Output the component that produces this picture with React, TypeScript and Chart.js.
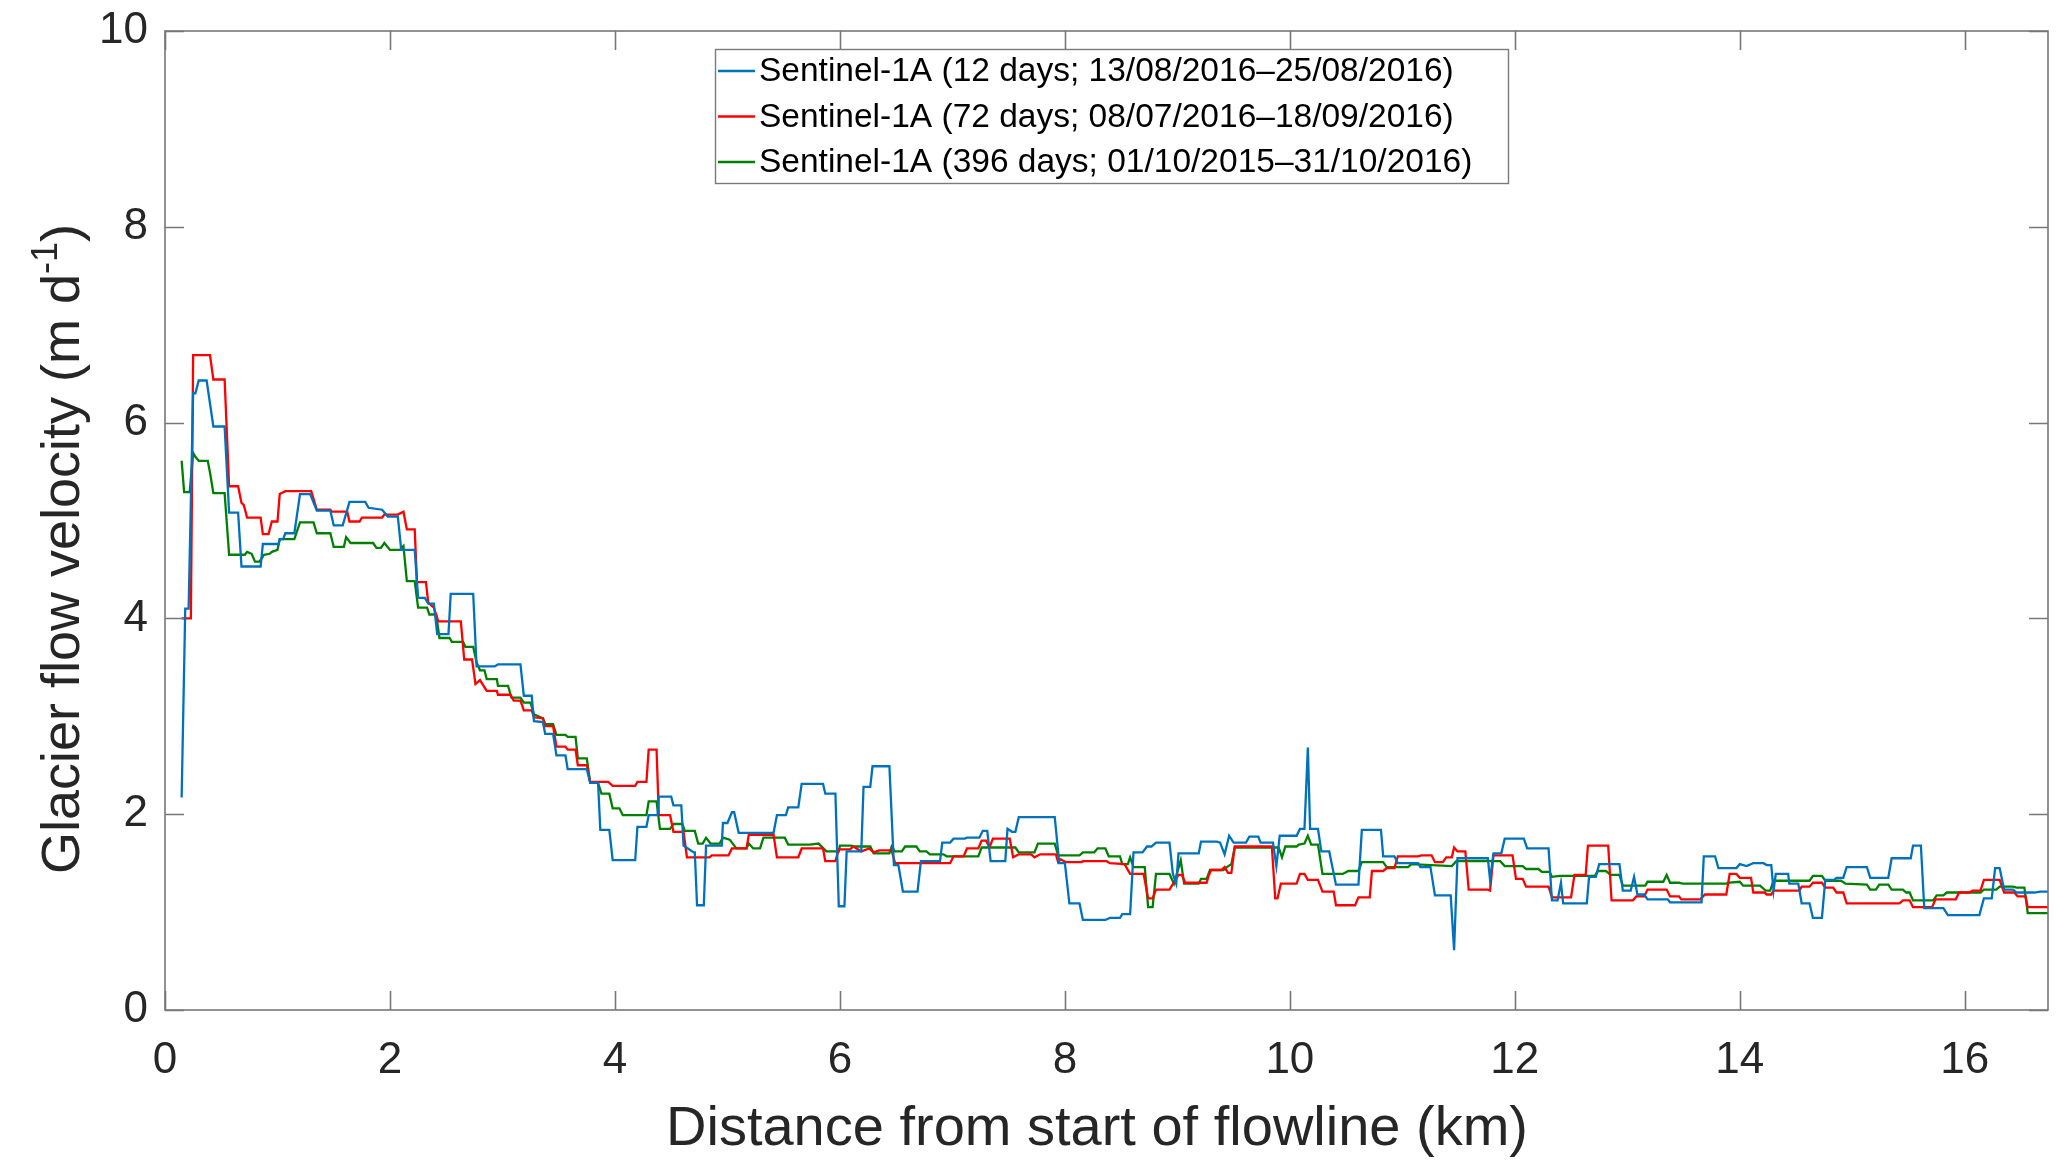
import React, { useEffect, useRef } from "react";
import { Chart, registerables } from "chart.js";

Chart.register(...registerables);

const W = 2067;
const H = 1175;

const xTicks = [0, 2, 4, 6, 8, 10, 12, 14, 16];
const yTicks = [0, 2, 4, 6, 8, 10];
const xMax = 16.74;
const yMax = 10;

const seriesLabels = [
  "Sentinel-1A (12 days; 13/08/2016\u201325/08/2016)",
  "Sentinel-1A (72 days; 08/07/2016\u201318/09/2016)",
  "Sentinel-1A (396 days; 01/10/2015\u201331/10/2016)",
];
const seriesColors = ["#0072BD", "#FF0000", "#008000"];

const xTitle = "Distance from start of flowline (km)";
const yTitleMain = "Glacier flow velocity (m d";
const yTitleSup = "-1";
const yTitleEnd = ")";

// [distance km, velocity m/d]
const s12days: [number, number][] = [
  [0.148, 2.17], [0.18, 4.1], [0.21, 4.1], [0.25, 6.3], [0.27, 6.3], [0.3, 6.43], [0.37, 6.43], [0.43, 5.96], [0.53, 5.96],
  [0.57, 5.08], [0.65, 5.08], [0.68, 4.53], [0.85, 4.53], [0.87, 4.76], [1.01, 4.76], [1.02, 4.81], [1.05, 4.81], [1.07, 4.87],
  [1.15, 4.87], [1.2, 5.27], [1.29, 5.27], [1.35, 5.1], [1.47, 5.1], [1.5, 4.95], [1.58, 4.95], [1.64, 5.19], [1.78, 5.19],
  [1.81, 5.13], [1.93, 5.11], [1.98, 5.04], [2.07, 5.04], [2.1, 4.7], [2.22, 4.7], [2.25, 4.21], [2.31, 4.21], [2.34, 4.15],
  [2.39, 4.15], [2.42, 3.84], [2.52, 3.84], [2.54, 4.25], [2.74, 4.25], [2.77, 3.51], [2.93, 3.51], [2.96, 3.53], [3.16, 3.53],
  [3.19, 3.21], [3.26, 3.21], [3.28, 2.95], [3.36, 2.94], [3.38, 2.82], [3.45, 2.82], [3.48, 2.6], [3.56, 2.6], [3.58, 2.46],
  [3.75, 2.46], [3.78, 2.32], [3.85, 2.32], [3.87, 1.84], [3.95, 1.84], [3.98, 1.53], [4.18, 1.53], [4.2, 1.87], [4.28, 1.87],
  [4.3, 1.99], [4.38, 1.99], [4.39, 2.18], [4.5, 2.18], [4.52, 2.09], [4.59, 2.09], [4.61, 1.68], [4.7, 1.61], [4.71, 1.61],
  [4.73, 1.07], [4.79, 1.07], [4.81, 1.68], [4.95, 1.68], [4.96, 1.91], [5.0, 1.91], [5.04, 2.02], [5.06, 2.02], [5.1, 1.81],
  [5.41, 1.81], [5.44, 1.99], [5.52, 1.99], [5.54, 2.07], [5.63, 2.07], [5.66, 2.31], [5.85, 2.31], [5.87, 2.21], [5.96, 2.21],
  [5.99, 1.06], [6.04, 1.06], [6.06, 1.62], [6.19, 1.62], [6.21, 2.28], [6.27, 2.28], [6.29, 2.49], [6.44, 2.49], [6.48, 1.48],
  [6.52, 1.48], [6.56, 1.21], [6.69, 1.21], [6.72, 1.52], [6.89, 1.52], [6.91, 1.71], [6.98, 1.71], [7.01, 1.75], [7.11, 1.75],
  [7.13, 1.76], [7.24, 1.76], [7.27, 1.83], [7.31, 1.83], [7.34, 1.52], [7.47, 1.52], [7.49, 1.85], [7.53, 1.82], [7.56, 1.82],
  [7.59, 1.97], [7.91, 1.97], [7.95, 1.5], [8.0, 1.5], [8.04, 1.09], [8.13, 1.09], [8.16, 0.92], [8.36, 0.92], [8.4, 0.94],
  [8.49, 0.94], [8.51, 0.98], [8.58, 0.98], [8.61, 1.61], [8.69, 1.61], [8.73, 1.67], [8.77, 1.67], [8.81, 1.71], [8.93, 1.71],
  [8.96, 1.39], [8.99, 1.29], [9.01, 1.6], [9.19, 1.6], [9.21, 1.72], [9.35, 1.72], [9.38, 1.71], [9.42, 1.59], [9.46, 1.78],
  [9.5, 1.71], [9.61, 1.71], [9.64, 1.77], [9.72, 1.77], [9.74, 1.71], [9.85, 1.71], [9.88, 1.47], [9.91, 1.78], [10.06, 1.78],
  [10.09, 1.85], [10.13, 1.85], [10.16, 2.68], [10.18, 1.85], [10.25, 1.85], [10.28, 1.62], [10.35, 1.62], [10.41, 1.28],
  [10.61, 1.28], [10.64, 1.84], [10.81, 1.84], [10.83, 1.57], [10.93, 1.57], [10.96, 1.5], [11.14, 1.5], [11.16, 1.46],
  [11.25, 1.46], [11.29, 1.17], [11.43, 1.17], [11.46, 0.61], [11.49, 1.55], [11.76, 1.55], [11.78, 1.33], [11.81, 1.6],
  [11.88, 1.6], [11.91, 1.75], [12.08, 1.75], [12.11, 1.65], [12.3, 1.65], [12.33, 1.12], [12.38, 1.12], [12.41, 1.3],
  [12.43, 1.09], [12.64, 1.09], [12.66, 1.36], [12.72, 1.36], [12.75, 1.49], [12.93, 1.49], [12.96, 1.22], [13.03, 1.22],
  [13.06, 1.36], [13.09, 1.18], [13.15, 1.18], [13.18, 1.13], [13.36, 1.13], [13.38, 1.1], [13.66, 1.1], [13.68, 1.57],
  [13.78, 1.57], [13.81, 1.45], [13.97, 1.45], [14.0, 1.49], [14.06, 1.47], [14.12, 1.5], [14.21, 1.5], [14.24, 1.48],
  [14.28, 1.48], [14.3, 1.22], [14.32, 1.39], [14.43, 1.39], [14.44, 1.29], [14.52, 1.29], [14.55, 1.09], [14.62, 1.09],
  [14.65, 0.94], [14.73, 0.94], [14.76, 1.33], [14.84, 1.33], [14.86, 1.35], [14.92, 1.35], [14.95, 1.46], [15.13, 1.46],
  [15.16, 1.35], [15.32, 1.35], [15.35, 1.55], [15.52, 1.55], [15.54, 1.68], [15.61, 1.68], [15.64, 1.04], [15.81, 1.04],
  [15.85, 0.97], [16.13, 0.97], [16.17, 1.14], [16.24, 1.14], [16.27, 1.45], [16.31, 1.45], [16.35, 1.23], [16.43, 1.23],
  [16.46, 1.2], [16.62, 1.2], [16.67, 1.21], [16.74, 1.21],
];

const s72days: [number, number][] = [
  [0.148, 4.0], [0.23, 4.0], [0.25, 6.69], [0.4, 6.69], [0.43, 6.44], [0.53, 6.44], [0.57, 5.35], [0.65, 5.35], [0.68, 5.18],
  [0.7, 5.16], [0.73, 5.03], [0.85, 5.03], [0.87, 4.86], [0.92, 4.86], [0.95, 4.99], [1.0, 4.99], [1.02, 5.27], [1.07, 5.3],
  [1.3, 5.3], [1.35, 5.11], [1.47, 5.11], [1.48, 5.09], [1.62, 5.09], [1.64, 4.99], [1.73, 4.99], [1.75, 5.03], [1.93, 5.03],
  [1.95, 5.06], [2.07, 5.06], [2.12, 5.09], [2.15, 4.91], [2.22, 4.91], [2.24, 4.37], [2.32, 4.37], [2.34, 4.16], [2.39, 4.11],
  [2.43, 3.97], [2.63, 3.97], [2.66, 3.58], [2.73, 3.58], [2.76, 3.33], [2.8, 3.37], [2.86, 3.26], [2.95, 3.26], [2.96, 3.22],
  [3.07, 3.22], [3.1, 3.16], [3.16, 3.16], [3.19, 3.06], [3.26, 3.06], [3.28, 2.99], [3.36, 2.98], [3.38, 2.9], [3.45, 2.9],
  [3.48, 2.69], [3.56, 2.69], [3.58, 2.66], [3.65, 2.66], [3.67, 2.5], [3.75, 2.5], [3.78, 2.33], [3.94, 2.33], [3.98, 2.29],
  [4.18, 2.29], [4.2, 2.33], [4.28, 2.33], [4.3, 2.66], [4.37, 2.66], [4.39, 1.99], [4.49, 1.99], [4.52, 1.82], [4.61, 1.82],
  [4.64, 1.56], [4.84, 1.56], [4.86, 1.58], [5.01, 1.58], [5.04, 1.65], [5.17, 1.65], [5.19, 1.79], [5.41, 1.79], [5.44, 1.56],
  [5.63, 1.56], [5.66, 1.65], [5.85, 1.65], [5.87, 1.52], [5.96, 1.52], [5.99, 1.64], [6.09, 1.64], [6.12, 1.67], [6.19, 1.62],
  [6.26, 1.65], [6.3, 1.61], [6.35, 1.63], [6.46, 1.63], [6.49, 1.5], [6.98, 1.5], [7.01, 1.57], [7.1, 1.57], [7.13, 1.65],
  [7.23, 1.65], [7.26, 1.73], [7.3, 1.73], [7.33, 1.66], [7.36, 1.75], [7.51, 1.75], [7.54, 1.56], [7.59, 1.59], [7.7, 1.59],
  [7.73, 1.56], [7.78, 1.59], [7.92, 1.59], [7.94, 1.51], [7.96, 1.54], [8.01, 1.51], [8.15, 1.51], [8.16, 1.52], [8.37, 1.52],
  [8.4, 1.5], [8.53, 1.49], [8.58, 1.39], [8.7, 1.39], [8.74, 1.14], [8.78, 1.14], [8.81, 1.23], [8.93, 1.23], [9.01, 1.38],
  [9.04, 1.38], [9.07, 1.3], [9.26, 1.3], [9.28, 1.38], [9.3, 1.43], [9.39, 1.43], [9.42, 1.46], [9.45, 1.4], [9.48, 1.4],
  [9.51, 1.67], [9.84, 1.67], [9.87, 1.14], [9.89, 1.14], [9.92, 1.29], [10.06, 1.29], [10.09, 1.39], [10.13, 1.39],
  [10.16, 1.33], [10.25, 1.33], [10.29, 1.21], [10.39, 1.21], [10.41, 1.07], [10.58, 1.07], [10.61, 1.15], [10.71, 1.15],
  [10.73, 1.42], [10.83, 1.42], [10.86, 1.45], [10.93, 1.45], [10.96, 1.57], [11.14, 1.57], [11.17, 1.58], [11.26, 1.58],
  [11.29, 1.51], [11.36, 1.51], [11.39, 1.56], [11.44, 1.56], [11.46, 1.66], [11.49, 1.62], [11.56, 1.62], [11.59, 1.23],
  [11.76, 1.23], [11.78, 1.22], [11.81, 1.58], [11.98, 1.58], [12.01, 1.34], [12.07, 1.34], [12.1, 1.26], [12.3, 1.26],
  [12.33, 1.15], [12.5, 1.15], [12.53, 1.38], [12.63, 1.38], [12.65, 1.68], [12.83, 1.68], [12.86, 1.12], [13.05, 1.12],
  [13.08, 1.16], [13.15, 1.16], [13.18, 1.23], [13.35, 1.23], [13.38, 1.16], [13.46, 1.16], [13.48, 1.13], [13.65, 1.13],
  [13.69, 1.18], [13.88, 1.18], [13.91, 1.39], [13.97, 1.39], [14.0, 1.35], [14.1, 1.35], [14.12, 1.2], [14.22, 1.2],
  [14.24, 1.18], [14.28, 1.18], [14.3, 1.22], [14.53, 1.22], [14.55, 1.26], [14.62, 1.26], [14.65, 1.3], [14.73, 1.3],
  [14.76, 1.25], [14.83, 1.25], [14.86, 1.2], [14.92, 1.2], [14.95, 1.09], [15.42, 1.09], [15.45, 1.12], [15.51, 1.12],
  [15.54, 1.05], [15.71, 1.05], [15.74, 1.13], [15.92, 1.13], [15.95, 1.2], [16.04, 1.2], [16.07, 1.22], [16.14, 1.22],
  [16.17, 1.33], [16.31, 1.33], [16.35, 1.2], [16.44, 1.2], [16.47, 1.16], [16.54, 1.16], [16.56, 1.05], [16.74, 1.05],
];

const s396days: [number, number][] = [
  [0.148, 5.61], [0.17, 5.29], [0.22, 5.29], [0.25, 5.69], [0.27, 5.65], [0.3, 5.61], [0.38, 5.61], [0.4, 5.49], [0.43, 5.28],
  [0.53, 5.28], [0.57, 4.65], [0.71, 4.65], [0.73, 4.68], [0.77, 4.66], [0.8, 4.58], [0.84, 4.58], [0.88, 4.65], [0.93, 4.66],
  [0.95, 4.68], [1.0, 4.7], [1.02, 4.81], [1.15, 4.81], [1.2, 4.98], [1.32, 4.98], [1.35, 4.87], [1.47, 4.87], [1.5, 4.73],
  [1.59, 4.73], [1.61, 4.83], [1.65, 4.77], [1.85, 4.77], [1.88, 4.72], [1.92, 4.72], [1.95, 4.77], [2.0, 4.7], [2.09, 4.7],
  [2.12, 4.74], [2.15, 4.38], [2.22, 4.38], [2.25, 4.11], [2.33, 4.11], [2.35, 4.04], [2.41, 4.04], [2.44, 3.8], [2.53, 3.8],
  [2.55, 3.76], [2.65, 3.76], [2.67, 3.71], [2.74, 3.71], [2.77, 3.55], [2.8, 3.47], [2.84, 3.47], [2.86, 3.38], [2.95, 3.38],
  [2.96, 3.31], [3.05, 3.31], [3.08, 3.19], [3.16, 3.19], [3.19, 3.14], [3.25, 3.14], [3.28, 3.02], [3.36, 2.98], [3.38, 2.92],
  [3.45, 2.92], [3.48, 2.81], [3.56, 2.81], [3.58, 2.79], [3.65, 2.79], [3.67, 2.57], [3.75, 2.57], [3.78, 2.32], [3.85, 2.32],
  [3.88, 2.21], [3.95, 2.21], [3.98, 2.06], [4.04, 2.06], [4.07, 1.99], [4.28, 1.99], [4.3, 2.13], [4.37, 2.13], [4.4, 1.85],
  [4.49, 1.85], [4.52, 1.9], [4.6, 1.9], [4.62, 1.83], [4.71, 1.83], [4.74, 1.7], [4.78, 1.7], [4.81, 1.76], [4.85, 1.7],
  [4.93, 1.7], [4.96, 1.76], [5.02, 1.74], [5.08, 1.65], [5.17, 1.65], [5.19, 1.7], [5.23, 1.65], [5.29, 1.65], [5.32, 1.76],
  [5.51, 1.76], [5.54, 1.69], [5.73, 1.69], [5.81, 1.7], [5.88, 1.62], [5.99, 1.62], [6.0, 1.68], [6.1, 1.68], [6.13, 1.67],
  [6.27, 1.67], [6.3, 1.6], [6.44, 1.6], [6.46, 1.67], [6.49, 1.62], [6.55, 1.62], [6.58, 1.67], [6.68, 1.67], [6.71, 1.62],
  [6.77, 1.62], [6.8, 1.59], [6.92, 1.59], [6.95, 1.57], [7.23, 1.57], [7.26, 1.66], [7.56, 1.66], [7.59, 1.61], [7.73, 1.61],
  [7.76, 1.7], [7.91, 1.7], [7.94, 1.58], [8.13, 1.58], [8.16, 1.61], [8.26, 1.61], [8.29, 1.65], [8.36, 1.65], [8.39, 1.57],
  [8.49, 1.57], [8.51, 1.49], [8.56, 1.49], [8.58, 1.56], [8.61, 1.46], [8.71, 1.46], [8.74, 1.05], [8.78, 1.05], [8.81, 1.39],
  [8.93, 1.39], [8.97, 1.29], [9.03, 1.53], [9.06, 1.29], [9.19, 1.29], [9.21, 1.34], [9.26, 1.34], [9.29, 1.43], [9.41, 1.43],
  [9.44, 1.46], [9.48, 1.49], [9.51, 1.66], [9.9, 1.66], [9.93, 1.56], [9.96, 1.67], [10.06, 1.67], [10.08, 1.69], [10.13, 1.7],
  [10.16, 1.78], [10.19, 1.69], [10.25, 1.69], [10.29, 1.39], [10.47, 1.39], [10.52, 1.42], [10.61, 1.42], [10.64, 1.51],
  [10.83, 1.51], [10.86, 1.46], [11.05, 1.46], [11.08, 1.49], [11.44, 1.47], [11.48, 1.52], [11.87, 1.52], [11.91, 1.47],
  [12.07, 1.47], [12.1, 1.44], [12.21, 1.44], [12.24, 1.41], [12.31, 1.41], [12.33, 1.36], [12.4, 1.37], [12.71, 1.37],
  [12.74, 1.42], [12.81, 1.42], [12.85, 1.38], [12.93, 1.38], [12.96, 1.27], [13.16, 1.27], [13.18, 1.31], [13.32, 1.31],
  [13.35, 1.38], [13.38, 1.3], [13.46, 1.3], [13.49, 1.29], [13.88, 1.29], [13.91, 1.3], [14.0, 1.31], [14.03, 1.27],
  [14.18, 1.27], [14.23, 1.22], [14.27, 1.22], [14.3, 1.32], [14.62, 1.32], [14.65, 1.37], [14.73, 1.37], [14.76, 1.32],
  [14.9, 1.32], [14.94, 1.29], [15.13, 1.28], [15.16, 1.23], [15.21, 1.23], [15.24, 1.28], [15.32, 1.28], [15.35, 1.23],
  [15.45, 1.23], [15.48, 1.2], [15.51, 1.2], [15.54, 1.12], [15.72, 1.12], [15.75, 1.17], [15.81, 1.17], [15.84, 1.2],
  [16.14, 1.2], [16.17, 1.23], [16.28, 1.23], [16.31, 1.26], [16.43, 1.26], [16.46, 1.25], [16.53, 1.25], [16.56, 0.99],
  [16.74, 0.99],
];

const seriesData = [s12days, s72days, s396days];

const FONT = "'Liberation Sans', Arial, Helvetica, sans-serif";
const TEXT = "#262626";

const decorPlugin = {
  id: "decor",
  afterDatasetsDraw(chart: any) {
    const { ctx, chartArea: a, scales } = chart;
    ctx.save();
    // axes box
    ctx.strokeStyle = "#777777";
    ctx.lineWidth = 1.6;
    ctx.strokeRect(a.left, a.top, a.right - a.left, a.bottom - a.top);
    // inward ticks on all four sides
    const tl = 19;
    ctx.beginPath();
    for (const t of scales.x.ticks) {
      const px = Math.round(scales.x.getPixelForValue(t.value)) + 0.5;
      ctx.moveTo(px, a.bottom);
      ctx.lineTo(px, a.bottom - tl);
      ctx.moveTo(px, a.top);
      ctx.lineTo(px, a.top + tl);
    }
    for (const t of scales.y.ticks) {
      const py = Math.round(scales.y.getPixelForValue(t.value)) + 0.5;
      ctx.moveTo(a.left, py);
      ctx.lineTo(a.left + tl, py);
      ctx.moveTo(a.right, py);
      ctx.lineTo(a.right - tl, py);
    }
    ctx.stroke();

    // legend
    const lx = 715, ly = 49, lw = 793, lh = 134;
    ctx.fillStyle = "#ffffff";
    ctx.fillRect(lx, ly, lw, lh);
    ctx.strokeStyle = "#7a7a7a";
    ctx.lineWidth = 1.4;
    ctx.strokeRect(lx + 0.5, ly + 0.5, lw, lh);
    ctx.font = `33.5px ${FONT}`;
    ctx.textBaseline = "middle";
    ctx.textAlign = "left";
    chart.data.datasets.forEach((ds: any, i: number) => {
      const cy = ly + 22 + i * 45.5;
      ctx.strokeStyle = ds.borderColor;
      ctx.lineWidth = 2.3;
      ctx.beginPath();
      ctx.moveTo(lx + 3, cy);
      ctx.lineTo(lx + 40, cy);
      ctx.stroke();
      ctx.fillStyle = "#000000";
      ctx.fillText(ds.label, lx + 44, cy + 1);
    });

    // x-axis title
    ctx.fillStyle = TEXT;
    ctx.font = `56px ${FONT}`;
    ctx.textAlign = "center";
    ctx.textBaseline = "alphabetic";
    ctx.fillText(xTitle, 1097, 1145);

    // y-axis title with superscript
    const mainFont = `54px ${FONT}`;
    const supFont = `36px ${FONT}`;
    ctx.textAlign = "left";
    ctx.font = mainFont;
    const w1 = ctx.measureText(yTitleMain).width;
    const w3 = ctx.measureText(yTitleEnd).width;
    ctx.font = supFont;
    const w2 = ctx.measureText(yTitleSup).width;
    const total = w1 + w2 + w3;
    ctx.translate(60, 549);
    ctx.rotate(-Math.PI / 2);
    const base = 19;
    let x = -total / 2;
    ctx.font = mainFont;
    ctx.fillText(yTitleMain, x, base);
    x += w1;
    ctx.font = supFont;
    ctx.fillText(yTitleSup, x, base - 22);
    x += w2;
    ctx.font = mainFont;
    ctx.fillText(yTitleEnd, x, base);
    ctx.restore();
  },
};

export default function App() {
  const ref = useRef<HTMLCanvasElement | null>(null);
  useEffect(() => {
    if (!ref.current) return;
    const chart = new Chart(ref.current, {
      type: "line",
      data: {
        datasets: seriesData.map((d, i) => ({
          label: seriesLabels[i],
          data: d.map(([x, y]) => ({ x, y })),
          borderColor: seriesColors[i],
          backgroundColor: seriesColors[i],
          borderWidth: 2.3,
          pointRadius: 0,
          tension: 0,
          fill: false,
        })),
      },
      options: {
        animation: false,
        responsive: false,
        devicePixelRatio: 1,
        layout: { padding: { top: 31, right: 19, left: 0, bottom: 0 } },
        plugins: { legend: { display: false }, tooltip: { enabled: false } },
        scales: {
          x: {
            type: "linear",
            position: "bottom",
            min: 0,
            max: xMax,
            grid: { display: false, drawTicks: false },
            border: { display: false },
            afterBuildTicks: (s: any) => {
              s.ticks = xTicks.map((v) => ({ value: v }));
            },
            afterFit: (s: any) => {
              s.height = H - 1010;
              s.paddingLeft = 0;
              s.paddingRight = 0;
            },
            ticks: {
              autoSkip: false,
              maxRotation: 0,
              padding: 24,
              color: TEXT,
              font: { family: FONT, size: 44 },
              callback: (v: any) => String(v),
            },
          },
          y: {
            type: "linear",
            min: 0,
            max: yMax,
            grid: { display: false, drawTicks: false },
            border: { display: false },
            afterBuildTicks: (s: any) => {
              s.ticks = yTicks.map((v) => ({ value: v }));
            },
            afterFit: (s: any) => {
              s.width = 165;
              s.paddingTop = 0;
              s.paddingBottom = 0;
            },
            ticks: {
              autoSkip: false,
              padding: 17,
              color: TEXT,
              font: { family: FONT, size: 44 },
              callback: (v: any) => String(v),
            },
          },
        },
      },
      plugins: [decorPlugin],
    });
    return () => chart.destroy();
  }, []);

  return (
    <div style={{ position: "fixed", left: 0, top: 0, width: W, height: H, background: "#ffffff" }}>
      <canvas ref={ref} width={W} height={H} style={{ width: W, height: H, display: "block" }} />
    </div>
  );
}
